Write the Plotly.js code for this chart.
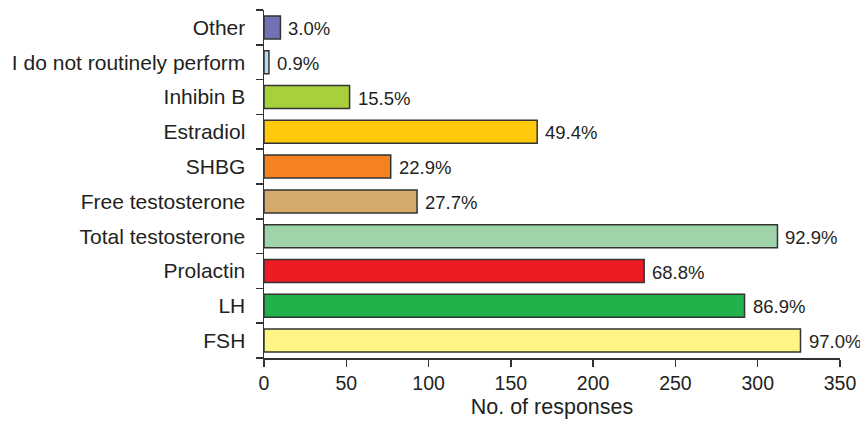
<!DOCTYPE html>
<html>
<head>
<meta charset="utf-8">
<script src="https://cdn.plot.ly/plotly-3.0.1.min.js"></script>
<style>html,body{margin:0;padding:0;background:#fff;}#chart{width:860px;height:423px;}</style>
</head>
<body>
<div id="chart"></div>
<script>
const categories = ["FSH", "LH", "Prolactin", "Total testosterone", "Free testosterone", "SHBG", "Estradiol", "Inhibin B", "I do not routinely perform", "Other"];
const responses = [326, 292, 231, 312, 93, 77, 166, 52, 3, 10];
const percentLabels = ["97.0%", "86.9%", "68.8%", "92.9%", "27.7%", "22.9%", "49.4%", "15.5%", "0.9%", "3.0%"];
const barColors = ["#fff584", "#22b24c", "#ed1c24", "#9fd4ab", "#d4aa6a", "#f58220", "#ffc90a", "#a8cf3c", "#b3def3", "#7470b5"];
const xTicks = [0, 50, 100, 150, 200, 250, 300, 350];

const textColor = "#231f20";
const family = "Liberation Sans, Arial, sans-serif";
const catFont = {family: family, size: 21, color: textColor};
const tickFont = {family: family, size: 19.5, color: textColor};
const titleFont = {family: family, size: 21.5, color: textColor};
const pctFont = {family: family, size: 18.5, color: textColor};

const trace = {
  type: "bar",
  orientation: "h",
  y: categories,
  x: responses,
  width: 0.66,
  marker: {color: barColors, line: {color: "#333333", width: 1.5}},
  hoverinfo: "none"
};

const annotations = categories.map((c, i) => ({
  x: responses[i], y: c, xref: "x", yref: "y",
  text: percentLabels[i], showarrow: false,
  xanchor: "left", yanchor: "middle", xshift: 6, yshift: -1,
  font: pctFont
}));

const layout = {
  width: 860, height: 423,
  margin: {l: 264, r: 20, t: 10, b: 65},
  paper_bgcolor: "#fff", plot_bgcolor: "#fff",
  font: catFont,
  showlegend: false,
  xaxis: {
    range: [0, 350],
    tickvals: xTicks,
    ticktext: xTicks.map(String),
    showgrid: false, zeroline: false,
    showline: true, linecolor: "#333333", linewidth: 1.5,
    ticks: "outside", ticklen: 7, tickwidth: 1.5, tickcolor: "#333333",
    tickfont: tickFont,
    title: {text: "No. of responses", font: titleFont, standoff: 6},
    fixedrange: true
  },
  yaxis: {
    type: "category",
    range: [-0.5, 9.5],
    showgrid: false, zeroline: false,
    showline: true, linecolor: "#333333", linewidth: 1.5,
    ticks: "outside", ticklen: 7, tickwidth: 1.5, tickcolor: "#333333",
    tickson: "boundaries",
    tickfont: catFont,
    ticklabelstandoff: 13,
    fixedrange: true
  },
  annotations: annotations
};

Plotly.newPlot("chart", [trace], layout, {displayModeBar: false, staticPlot: true});
</script>
</body>
</html>
